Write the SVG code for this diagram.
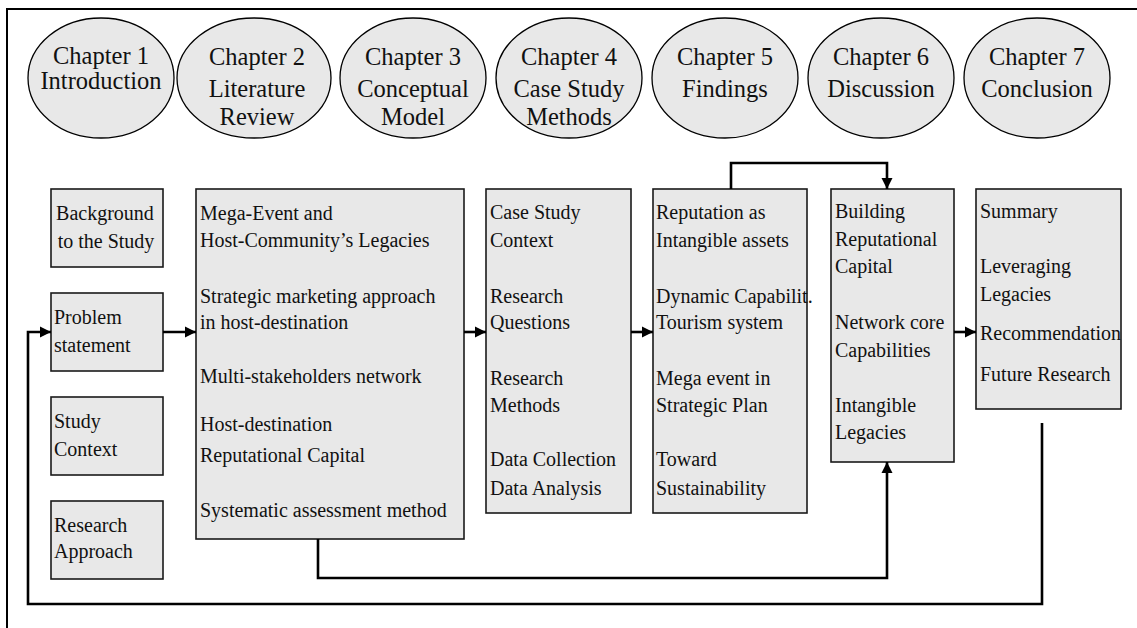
<svg xmlns="http://www.w3.org/2000/svg" width="1137" height="628" viewBox="0 0 1137 628">
  <style>
    .bg { fill: #ffffff; }
    .frame { fill: none; stroke: #000; stroke-width: 2; }
    .chap { fill: #e8e8e8; stroke: #000; stroke-width: 1.3; }
    .box { fill: #e8e8e8; stroke: #1a1a1a; stroke-width: 1.6; }
    .ct { font-family: "Liberation Serif", "Times New Roman", serif; font-size: 24.5px; fill: #111; text-anchor: middle; }
    .bt { font-family: "Liberation Serif", "Times New Roman", serif; font-size: 20px; fill: #111; }
    .mid { text-anchor: middle; }
    .conn { fill: none; stroke: #000; stroke-width: 2.6; }
  </style>
  <defs>
    <marker id="arrow" viewBox="0 0 10 10" refX="10" refY="5" markerWidth="4.4" markerHeight="4.4" orient="auto" markerUnits="strokeWidth">
      <path d="M0,0 L10,5 L0,10 z" fill="#000"/>
    </marker>
  </defs>

  <rect class="bg" x="0" y="0" width="1137" height="628"/>

  <!-- outer frame: top rule and left rule -->
  <path class="frame" d="M7,628 V9 H1137"/>

  <!-- chapter headings -->
  <g id="ch1">
    <ellipse class="chap" cx="101" cy="78" rx="73" ry="60"/>
    <text class="ct" x="101" y="64">Chapter 1</text>
    <text class="ct" x="101" y="89">Introduction</text>
  </g>
  <g id="ch2">
    <ellipse class="chap" cx="254" cy="78" rx="77" ry="60"/>
    <text class="ct" x="257" y="65">Chapter 2</text>
    <text class="ct" x="257" y="97">Literature</text>
    <text class="ct" x="257" y="125">Review</text>
  </g>
  <g id="ch3">
    <ellipse class="chap" cx="413" cy="78" rx="73" ry="60"/>
    <text class="ct" x="413" y="65">Chapter 3</text>
    <text class="ct" x="413" y="97">Conceptual</text>
    <text class="ct" x="413" y="125">Model</text>
  </g>
  <g id="ch4">
    <ellipse class="chap" cx="569" cy="78" rx="73" ry="60"/>
    <text class="ct" x="569" y="65">Chapter 4</text>
    <text class="ct" x="569" y="97">Case Study</text>
    <text class="ct" x="569" y="125">Methods</text>
  </g>
  <g id="ch5">
    <ellipse class="chap" cx="725" cy="78" rx="73" ry="60"/>
    <text class="ct" x="725" y="65">Chapter 5</text>
    <text class="ct" x="725" y="97">Findings</text>
  </g>
  <g id="ch6">
    <ellipse class="chap" cx="881" cy="78" rx="73" ry="60"/>
    <text class="ct" x="881" y="65">Chapter 6</text>
    <text class="ct" x="881" y="97">Discussion</text>
  </g>
  <g id="ch7">
    <ellipse class="chap" cx="1037" cy="78" rx="73" ry="60"/>
    <text class="ct" x="1037" y="65">Chapter 7</text>
    <text class="ct" x="1037" y="97">Conclusion</text>
  </g>

  <!-- chapter 1 topics -->
  <g id="background">
    <rect class="box" x="51" y="189" width="112" height="78"/>
    <text class="bt mid" x="105" y="220">Background</text>
    <text class="bt mid" x="106" y="248">to the Study</text>
  </g>
  <g id="problem">
    <rect class="box" x="51" y="293" width="112" height="78"/>
    <text class="bt" x="54" y="324">Problem</text>
    <text class="bt" x="54" y="352">statement</text>
  </g>
  <g id="context">
    <rect class="box" x="51" y="397" width="112" height="78"/>
    <text class="bt" x="54" y="428">Study</text>
    <text class="bt" x="54" y="456">Context</text>
  </g>
  <g id="approach">
    <rect class="box" x="51" y="501" width="112" height="78"/>
    <text class="bt" x="54" y="532">Research</text>
    <text class="bt" x="54" y="558">Approach</text>
  </g>

  <!-- chapter 2 topics -->
  <g id="literature">
    <rect class="box" x="196" y="189" width="268" height="350"/>
    <text class="bt" x="200" y="220">Mega-Event and</text>
    <text class="bt" x="200" y="247">Host-Community’s Legacies</text>
    <text class="bt" x="200" y="303">Strategic marketing approach</text>
    <text class="bt" x="200" y="329">in host-destination</text>
    <text class="bt" x="200" y="383">Multi-stakeholders network</text>
    <text class="bt" x="200" y="431">Host-destination</text>
    <text class="bt" x="200" y="462">Reputational Capital</text>
    <text class="bt" x="200" y="517">Systematic assessment method</text>
  </g>

  <!-- chapter 4 topics -->
  <g id="methods">
    <rect class="box" x="486" y="189" width="145" height="324"/>
    <text class="bt" x="490" y="219">Case Study</text>
    <text class="bt" x="490" y="247">Context</text>
    <text class="bt" x="490" y="303">Research</text>
    <text class="bt" x="490" y="329">Questions</text>
    <text class="bt" x="490" y="385">Research</text>
    <text class="bt" x="490" y="412">Methods</text>
    <text class="bt" x="490" y="466">Data Collection</text>
    <text class="bt" x="490" y="495">Data Analysis</text>
  </g>

  <!-- chapter 5 topics -->
  <g id="findings">
    <rect class="box" x="653" y="189" width="154" height="324"/>
    <text class="bt" x="656" y="219">Reputation as</text>
    <text class="bt" x="656" y="247">Intangible assets</text>
    <text class="bt" x="656" y="303">Dynamic Capabilit.</text>
    <text class="bt" x="656" y="329">Tourism system</text>
    <text class="bt" x="656" y="385">Mega event in</text>
    <text class="bt" x="656" y="412">Strategic Plan</text>
    <text class="bt" x="656" y="466">Toward</text>
    <text class="bt" x="656" y="495">Sustainability</text>
  </g>

  <!-- chapter 6 topics -->
  <g id="discussion">
    <rect class="box" x="831" y="189" width="123" height="273"/>
    <text class="bt" x="835" y="218">Building</text>
    <text class="bt" x="835" y="246">Reputational</text>
    <text class="bt" x="835" y="273">Capital</text>
    <text class="bt" x="835" y="329">Network core</text>
    <text class="bt" x="835" y="357">Capabilities</text>
    <text class="bt" x="835" y="412">Intangible</text>
    <text class="bt" x="835" y="439">Legacies</text>
  </g>

  <!-- chapter 7 topics -->
  <g id="conclusion">
    <rect class="box" x="976" y="189" width="145" height="220"/>
    <text class="bt" x="980" y="218">Summary</text>
    <text class="bt" x="980" y="273">Leveraging</text>
    <text class="bt" x="980" y="301">Legacies</text>
    <text class="bt" x="980" y="340">Recommendation</text>
    <text class="bt" x="980" y="381">Future Research</text>
  </g>

  <!-- connectors -->
  <g id="connectors">
    <path class="conn" d="M163,332 H196" marker-end="url(#arrow)"/>
    <path class="conn" d="M464,332 H486" marker-end="url(#arrow)"/>
    <path class="conn" d="M631,332 H653" marker-end="url(#arrow)"/>
    <path class="conn" d="M954,332 H976" marker-end="url(#arrow)"/>
    <path class="conn" d="M731,189 V163 H887 V189" marker-end="url(#arrow)"/>
    <path class="conn" d="M318,539 V578 H887 V462" marker-end="url(#arrow)"/>
    <path class="conn" d="M1042,423 V604 H28 V332 H51" marker-end="url(#arrow)"/>
  </g>
</svg>
